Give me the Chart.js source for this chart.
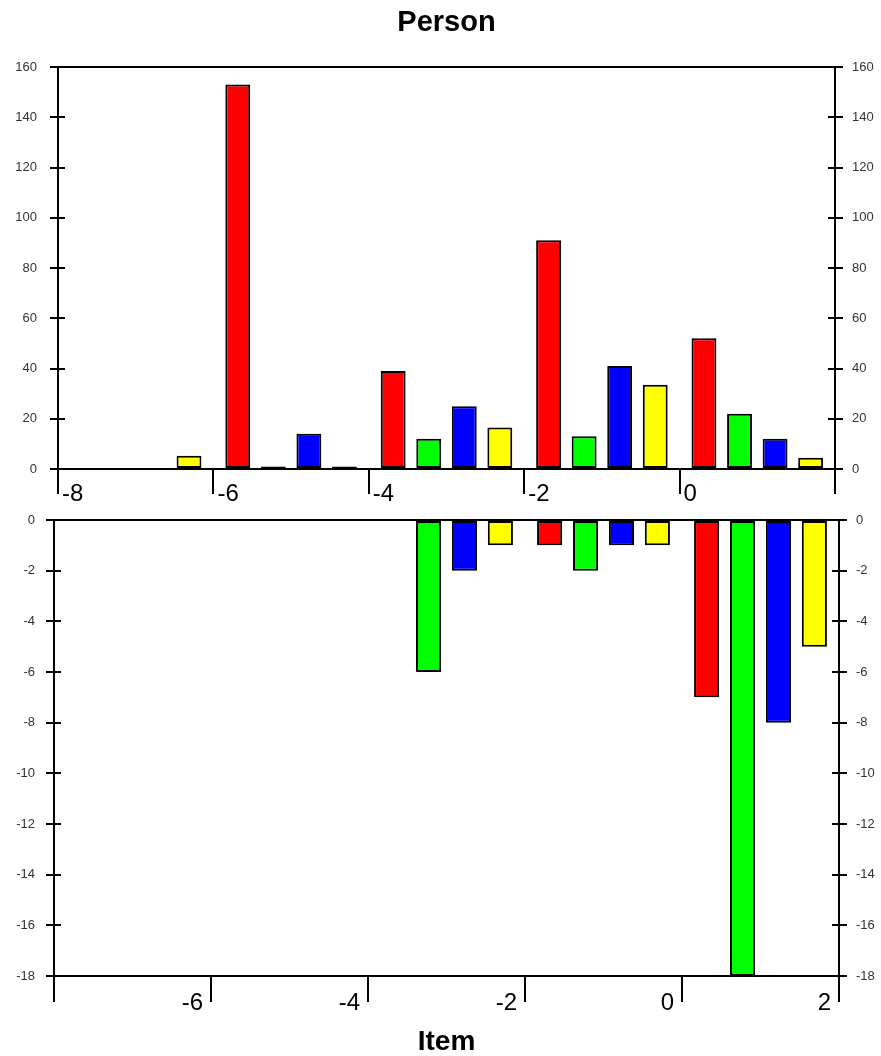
<!DOCTYPE html>
<html>
<head>
<meta charset="utf-8">
<script src="https://cdn.jsdelivr.net/npm/chart.js@4/dist/chart.umd.min.js"></script>
<style>
  html, body { margin: 0; padding: 0; background: #fff; overflow: hidden; }
  #wrap { position: relative; width: 881px; height: 1056px; }
  canvas { position: absolute; left: 0; }
  #upper { top: 0; }
  #lower { top: 480px; }
</style>
</head>
<body>
<div id="wrap">
  <canvas id="upper" width="881" height="520"></canvas>
  <canvas id="lower" width="881" height="576"></canvas>
</div>
<script>
// Item positions (group centres on the Item axis)
const itemGroups = [-7, -5, -3, -1, 1];

// Upper panel: positive Person counts per series
const upperRed    = [null, 153, 39, 91, 52];
const upperGreen  = [null, 1, 12, 13, 22];
const upperBlue   = [null, 14, 25, 41, 12];
const upperYellow = [5.3, 1, 16.5, 33.5, 4.5];

// Lower panel: negative Person counts per series
const lowerRed    = [null, null, null, -1, -7];
const lowerGreen  = [null, null, -6, -2, -18];
const lowerBlue   = [null, null, -2, -1, -8];
const lowerYellow = [null, null, -1, -1, -5];

// Axis ranges and tick steps
const itemRange = [-8, 2];
const itemStep = 2;
const upperRange = [0, 160];
const upperStep = 20;
const lowerRange = [-18, 0];
const lowerStep = 2;

const seriesColors = ['#ff0000', '#00ff00', '#0000ff', '#ffff00'];
const seriesNames = ['Red', 'Green', 'Blue', 'Yellow'];

Chart.defaults.font.family = '"Liberation Sans", Arial, sans-serif';
Chart.defaults.color = '#333';

function makeDatasets(seriesList) {
  return seriesList.map((vals, k) => ({
    label: seriesNames[k],
    data: itemGroups.map((x, i) => ({ x: x, y: vals[i] })),
    backgroundColor: seriesColors[k],
    borderColor: '#000',
    borderWidth: 2,
    borderSkipped: false,
    categoryPercentage: 0.915,
    barPercentage: 0.70
  }));
}

// Short tick stubs drawn inside the plot area so the y ticks cross the axes
const crossTicks = {
  id: 'crossTicks',
  afterDraw(chart) {
    const { ctx, chartArea } = chart;
    ctx.save();
    ctx.strokeStyle = '#000';
    ctx.lineWidth = 2;
    ['y', 'y2'].forEach(id => {
      const s = chart.scales[id];
      const left = s.position === 'left';
      const x0 = left ? chartArea.left : chartArea.right;
      const dir = left ? 1 : -1;
      s.ticks.forEach((t, i) => {
        const y = Math.round(s.getPixelForTick(i));
        ctx.beginPath();
        ctx.moveTo(x0, y);
        ctx.lineTo(x0 + dir * 7, y);
        ctx.stroke();
      });
    });
    ctx.restore();
  }
};

function yAxis(position, range, step, width, pad) {
  return {
    type: 'linear',
    position: position,
    min: range[0],
    max: range[1],
    afterFit: s => { s.width = width; },
    border: { display: true, color: '#000', width: 2 },
    grid: { drawOnChartArea: false, drawTicks: true, tickLength: 8, color: '#000', lineWidth: 2 },
    ticks: { stepSize: step, padding: pad, font: { size: 13 }, color: '#333' }
  };
}

function topFrame(height, titleText) {
  return {
    type: 'linear',
    position: 'top',
    min: itemRange[0],
    max: itemRange[1],
    offset: false,
    afterFit: s => { s.height = height; },
    border: { display: true, color: '#000', width: 2 },
    grid: { display: false, drawTicks: false, offset: false },
    ticks: { display: false },
    title: {
      display: !!titleText,
      text: titleText || '',
      color: '#000',
      font: { size: 29, weight: 'bold' },
      padding: { top: 6, bottom: 0 }
    }
  };
}

function itemAxis(height, tickLength, align, labelOffset, padding, hidden) {
  return {
    type: 'linear',
    position: 'bottom',
    min: itemRange[0],
    max: itemRange[1],
    offset: false,
    afterFit: s => { s.height = height; },
    border: { display: true, color: '#000', width: 2 },
    grid: { offset: false, drawOnChartArea: false, drawTicks: true, tickLength: tickLength, color: '#000', lineWidth: 2 },
    ticks: {
      stepSize: itemStep,
      align: align,
      labelOffset: labelOffset,
      padding: padding,
      color: '#000',
      font: { size: 24 },
      callback: v => (v === hidden ? '' : String(v))
    }
  };
}

const commonOpts = {
  responsive: false,
  animation: false,
  devicePixelRatio: 1,
  plugins: { legend: { display: false }, tooltip: { enabled: false }, title: { display: false } }
};

// Upper panel
new Chart(document.getElementById('upper'), {
  type: 'bar',
  data: { datasets: makeDatasets([upperRed, upperGreen, upperBlue, upperYellow]) },
  options: Object.assign({}, commonOpts, {
    layout: { padding: 0 },
    scales: {
      x: itemAxis(51, 25, 'start', 4, -14, itemRange[1]),
      x2: topFrame(67, 'Person'),
      y: yAxis('left', upperRange, upperStep, 58, 13),
      y2: yAxis('right', upperRange, upperStep, 46, 9)
    }
  }),
  plugins: [crossTicks]
});

// Lower panel
const lowerX = itemAxis(80, 26, 'end', -8, -13, itemRange[0]);
lowerX.title = {
  display: true,
  text: 'Item',
  color: '#000',
  font: { size: 28, weight: 'bold' },
  padding: { top: 0, bottom: -3 }
};

new Chart(document.getElementById('lower'), {
  type: 'bar',
  data: { datasets: makeDatasets([lowerRed, lowerGreen, lowerBlue, lowerYellow]) },
  options: Object.assign({}, commonOpts, {
    layout: { padding: 0 },
    scales: {
      x: lowerX,
      x2: topFrame(40, ''),
      y: yAxis('left', lowerRange, lowerStep, 54, 11),
      y2: yAxis('right', lowerRange, lowerStep, 42, 9)
    }
  }),
  plugins: [crossTicks]
});
</script>
</body>
</html>
